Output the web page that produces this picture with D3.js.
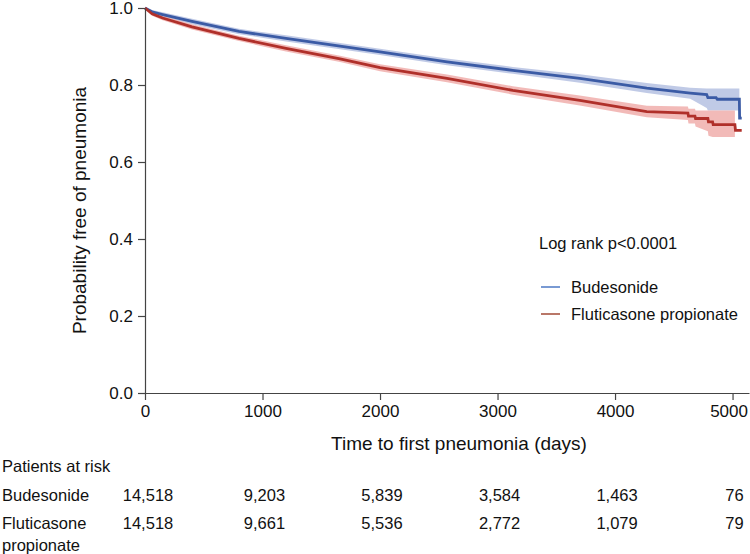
<!DOCTYPE html>
<html lang="en">
<head>
  <meta charset="UTF-8">
  <title>Time to first pneumonia</title>
  <script src="https://d3js.org/d3.v7.min.js"></script>
  <style>
    body {
      margin: 0;
      background: #fff;
      font-family: "Liberation Sans", Arial, sans-serif;
    }
    #chart {
      width: 750px;
      height: 554px;
    }
  </style>
</head>
<body>
  <div id="chart"></div>
  <script>
    // Kaplan-Meier estimates
    const budTimes = [0, 60, 150, 400, 800, 1200, 1660, 2000, 2570, 3130, 3700, 4270, 4640, 4780, 4790, 4860, 4870, 5058, 5060, 5078];
    const budSurv  = [1.0, 0.990, 0.983, 0.965, 0.939, 0.921, 0.901, 0.886, 0.860, 0.838, 0.817, 0.792, 0.779, 0.775, 0.767, 0.767, 0.763, 0.763, 0.714, 0.714];
    const budLow   = [1.0, 0.985, 0.977, 0.958, 0.932, 0.913, 0.893, 0.878, 0.851, 0.829, 0.806, 0.779, 0.764, 0.740, 0.734, 0.734, 0.734, 0.734, null, null];
    const budHigh  = [1.0, 0.995, 0.989, 0.972, 0.946, 0.929, 0.909, 0.894, 0.869, 0.847, 0.828, 0.805, 0.793, 0.791, 0.791, 0.791, 0.791, 0.791, null, null];

    const fpTimes = [0, 60, 150, 400, 800, 1200, 1660, 2000, 2570, 3130, 3700, 4270, 4620, 4625, 4680, 4685, 4790, 4795, 4830, 4835, 5020, 5025, 5078];
    const fpSurv  = [1.0, 0.985, 0.974, 0.951, 0.921, 0.895, 0.868, 0.845, 0.817, 0.786, 0.760, 0.731, 0.727, 0.719, 0.719, 0.713, 0.713, 0.704, 0.704, 0.697, 0.697, 0.682, 0.682];
    const fpLow   = [1.0, 0.980, 0.968, 0.944, 0.914, 0.887, 0.860, 0.836, 0.807, 0.775, 0.747, 0.716, 0.709, 0.700, 0.700, 0.692, 0.680, 0.668, 0.665, 0.665, 0.665, null, null];
    const fpHigh  = [1.0, 0.990, 0.980, 0.958, 0.928, 0.903, 0.876, 0.854, 0.827, 0.797, 0.773, 0.746, 0.744, 0.738, 0.738, 0.734, 0.734, 0.734, 0.734, 0.734, 0.734, null, null];

    const xTicks = [0, 1000, 2000, 3000, 4000, 5000];
    const yTicks = [0, 0.2, 0.4, 0.6, 0.8, 1.0];

    const riskLabels = ['Budesonide', ['Fluticasone', 'propionate']];
    const budAtRisk = ['14,518', '9,203', '5,839', '3,584', '1,463', '76'];
    const fpAtRisk  = ['14,518', '9,661', '5,536', '2,772', '1,079', '79'];

    const series = [
      { name: 'Budesonide', t: budTimes, s: budSurv, lo: budLow, hi: budHigh,
        line: '#3b5ba5', band: '#b5c1e2', legend: '#4d79c4' },
      { name: 'Fluticasone propionate', t: fpTimes, s: fpSurv, lo: fpLow, hi: fpHigh,
        line: '#b0302a', band: '#f0aeab', legend: '#a24a36' }
    ];

    const W = 750, H = 554;
    const font = '"Liberation Sans", Arial, sans-serif';
    const svg = d3.select('#chart').append('svg')
      .attr('width', W)
      .attr('height', H)
      .style('font-family', font);

    const x = d3.scaleLinear().domain([0, 5140]).range([145, 749]);
    const y = d3.scaleLinear().domain([0, 1]).range([393, 8]);

    // confidence bands
    series.forEach(sr => {
      const pts = sr.t.map((t, i) => ({ t, s: sr.s[i], lo: sr.lo[i], hi: sr.hi[i] }));
      svg.append('path')
        .datum(pts)
        .attr('fill', sr.band)
        .attr('opacity', 0.85)
        .attr('d', d3.area()
          .defined(d => d.lo !== null)
          .x(d => x(d.t))
          .y0(d => y(d.lo))
          .y1(d => y(d.hi)));
    });

    series.forEach(sr => {
      const pts = sr.t.map((t, i) => ({ t, s: sr.s[i] }));
      svg.append('path')
        .datum(pts)
        .attr('fill', 'none')
        .attr('stroke', sr.line)
        .attr('stroke-width', 2.8)
        .attr('d', d3.line().x(d => x(d.t)).y(d => y(d.s)));
    });

    // axes
    const xAxis = svg.append('g')
      .attr('transform', `translate(0,${y(0)})`)
      .call(d3.axisBottom(x).tickValues(xTicks).tickFormat(d3.format('d'))
        .tickSize(7).tickSizeOuter(0).tickPadding(5));
    const yAxis = svg.append('g')
      .attr('transform', `translate(${x(0)},0)`)
      .call(d3.axisLeft(y).tickValues(yTicks).tickFormat(d3.format('.1f'))
        .tickSize(7).tickSizeOuter(0).tickPadding(5));
    [xAxis, yAxis].forEach(g => {
      g.select('.domain').attr('stroke', '#444').attr('stroke-width', 1.2);
      g.selectAll('.tick line').attr('stroke', '#444').attr('stroke-width', 1.2);
      g.selectAll('.tick text')
        .attr('fill', '#111')
        .style('font-size', '17px')
        .style('font-family', font);
    });
    xAxis.selectAll('.tick text').filter(d => d === 5000).attr('dx', -4);

    svg.append('text')
      .attr('transform', `translate(86,${(y(0) + y(1)) / 2 + 10}) rotate(-90)`)
      .attr('text-anchor', 'middle')
      .style('font-size', '19px')
      .attr('fill', '#111')
      .text('Probability free of pneumonia');

    svg.append('text')
      .attr('x', 459)
      .attr('y', 450)
      .attr('text-anchor', 'middle')
      .style('font-size', '19px')
      .attr('fill', '#111')
      .text('Time to first pneumonia (days)');

    // legend
    svg.append('text')
      .attr('x', 539).attr('y', 249)
      .style('font-size', '16.5px')
      .attr('fill', '#111')
      .text('Log rank p<0.0001');
    series.forEach((sr, i) => {
      const ly = 287 + i * 27;
      svg.append('line')
        .attr('x1', 541).attr('x2', 560)
        .attr('y1', ly).attr('y2', ly)
        .attr('stroke', sr.legend)
        .attr('stroke-width', 1.5);
      svg.append('text')
        .attr('x', 571).attr('y', ly + 6)
        .style('font-size', '16.5px')
        .attr('fill', '#111')
        .text(sr.name);
    });

    // patients at risk table
    svg.append('text')
      .attr('x', 2).attr('y', 472)
      .style('font-size', '16.5px')
      .attr('fill', '#111')
      .text('Patients at risk');

    const rows = [budAtRisk, fpAtRisk];
    rows.forEach((vals, r) => {
      const ry = 501 + r * 28;
      const lab = riskLabels[r];
      const labText = svg.append('text')
        .attr('x', 2).attr('y', ry)
        .style('font-size', '16.5px')
        .attr('fill', '#111');
      if (Array.isArray(lab)) {
        lab.forEach((part, k) => labText.append('tspan')
          .attr('x', 2).attr('dy', k === 0 ? 0 : 22).text(part));
      } else {
        labText.text(lab);
      }
      svg.selectAll(null)
        .data(vals)
        .join('text')
        .attr('x', (d, i) => x(xTicks[i]) + (i === 0 ? 3 : 2))
        .attr('y', ry)
        .attr('text-anchor', 'middle')
        .style('font-size', '16.5px')
        .attr('fill', '#111')
        .text(d => d);
    });
  </script>
</body>
</html>
